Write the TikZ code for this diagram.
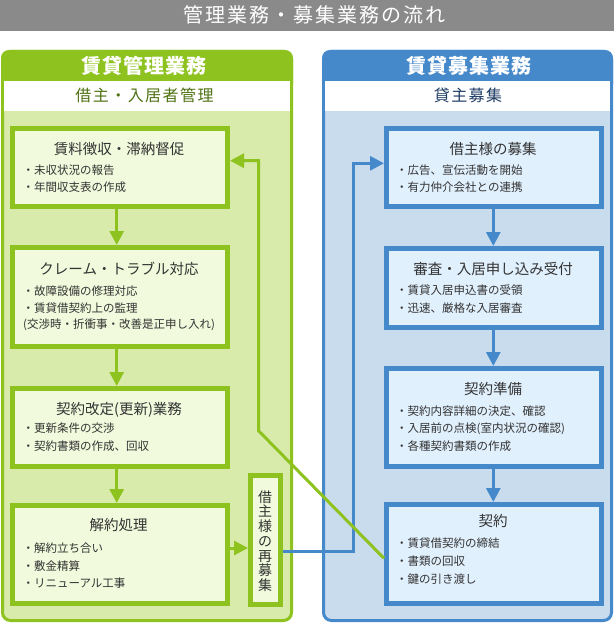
\documentclass[tikz,border=0pt]{standalone}
\usepackage{fontspec}
\setmainfont{Noto Sans CJK JP}
\usetikzlibrary{arrows.meta}
\definecolor{gbar}{HTML}{8A8A8A}
\definecolor{gmain}{HTML}{8DC21F}
\definecolor{gbody}{HTML}{D8EBAB}
\definecolor{gbox}{HTML}{F1FADC}
\definecolor{gtext}{HTML}{4F7214}
\definecolor{bmain}{HTML}{4689CB}
\definecolor{bbody}{HTML}{C8DCEE}
\definecolor{bbox}{HTML}{E1F0FD}
\definecolor{btext}{HTML}{1F3C64}
\definecolor{tx}{HTML}{333333}
\begin{document}
\begin{tikzpicture}[x=1pt,y=-1pt,
  gbx/.style={draw=gmain, fill=gbox, line width=5pt, inner sep=0pt, minimum width=215pt},
  bbx/.style={draw=bmain, fill=bbox, line width=5pt, inner sep=0pt, minimum width=215pt},
  ttl/.style={font=\fontsize{14.5}{16}\selectfont, text=tx, inner sep=0pt},
  blt/.style={font=\fontsize{11.5}{13}\selectfont, text=tx, anchor=west, inner sep=0pt},
  hdr/.style={font=\fontsize{20}{22}\selectfont\bfseries\addfontfeature{LetterSpace=5}, text=white, inner sep=0pt},
  sub/.style={font=\fontsize{16}{18}\selectfont\addfontfeature{LetterSpace=9}, inner sep=0pt},
  garr/.style={draw=gmain, line width=3pt, -{Triangle[width=14pt,length=14pt]}},
  barr/.style={draw=bmain, line width=3pt, -{Triangle[width=14pt,length=14pt]}},
  gln/.style={draw=gmain, line width=3pt},
  bln/.style={draw=bmain, line width=3pt}]
\useasboundingbox (0,0) rectangle (614,623);

% title bar
\fill[gbar] (0,0) rectangle (614,31);
\node[font=\fontsize{20}{22}\selectfont\addfontfeature{LetterSpace=10}, text=white, inner sep=0pt] (title) at (314,14.5) {管理業務・募集業務の流れ};

% left panel
\draw[gmain, line width=3pt, fill=gbody, rounded corners=8pt] (2.5,51.5) rectangle (291.5,620.5);
\fill[gmain, rounded corners=8pt] (1,50) rectangle (293,92);
\fill[white] (4,81) rectangle (290,111);
\node[hdr] (lhdr) at (144,65.7) {賃貸管理業務};
\node[sub, text=gtext] (lsub) at (144.5,95.7) {借主・入居者管理};

% right panel
\draw[bmain, line width=3pt, fill=bbody, rounded corners=8pt] (323.5,51.5) rectangle (611.5,620.5);
\fill[bmain, rounded corners=8pt] (322,50) rectangle (613,92);
\fill[white] (325,81) rectangle (610,111);
\node[hdr] (rhdr) at (469,65.7) {賃貸募集業務};
\node[sub, text=btext] (rsub) at (468,95.7) {貸主募集};

% left boxes
\node[gbx, minimum height=78pt] (L1) at (120,167.5) {};
\node[gbx, minimum height=99pt] (L2) at (120,297) {};
\node[gbx, minimum height=78pt] (L3) at (120,427.5) {};
\node[gbx, minimum height=98pt] (L4) at (120,554.5) {};
\node[gbx, minimum width=30pt, minimum height=129pt] (V) at (265.5,540) {};

\node[ttl] (L1t) at (119,149.3) {賃料徴収・滞納督促};
\node[blt] (L1a) at (22.3,170) {・未収状況の報告};
\node[blt] (L1b) at (22.3,187.3) {・年間収支表の作成};

\node[ttl] (L2t) at (119,269.3) {クレーム・トラブル対応};
\node[blt] (L2a) at (22.3,291) {・故障設備の修理対応};
\node[blt] (L2b) at (22.3,308.3) {・賃貸借契約上の監理};
\node[blt] (L2c) at (23,325) {(交渉時・折衝事・改善是正申し入れ)};

\node[ttl] (L3t) at (119,410) {契約改定(更新)業務};
\node[blt] (L3a) at (22.3,428.3) {・更新条件の交渉};
\node[blt] (L3b) at (22.3,446) {・契約書類の作成、回収};

\node[ttl] (L4t) at (118.5,525) {解約処理};
\node[blt] (L4a) at (22.3,548.3) {・解約立ち合い};
\node[blt] (L4b) at (22.3,566) {・敷金精算};
\node[blt] (L4c) at (22.3,583.3) {・リニューアル工事};

\node[font=\fontsize{14}{14.7}\selectfont, text=tx, align=center, inner sep=0pt] (Vt) at (265,541) {借\\主\\様\\の\\再\\募\\集};

% right boxes
\node[bbx, minimum height=78pt] (R1) at (494,167.5) {};
\node[bbx, minimum height=79pt] (R2) at (494,288) {};
\node[bbx, minimum height=98pt] (R3) at (494,417.5) {};
\node[bbx, minimum height=99pt] (R4) at (494,554) {};

\node[ttl] (R1t) at (493,149.3) {借主様の募集};
\node[blt] (R1a) at (396,170) {・広告、宣伝活動を開始};
\node[blt] (R1b) at (396,187.3) {・有力仲介会社との連携};

\node[ttl] (R2t) at (493,269.3) {審査・入居申し込み受付};
\node[blt] (R2a) at (396,290) {・賃貸入居申込書の受領};
\node[blt] (R2b) at (396,308.3) {・迅速、厳格な入居審査};

\node[ttl] (R3t) at (493,389.3) {契約準備};
\node[blt] (R3a) at (396,411) {・契約内容詳細の決定、確認};
\node[blt] (R3b) at (396,428.3) {・入居前の点検(室内状況の確認)};
\node[blt] (R3c) at (396,446) {・各種契約書類の作成};

\node[ttl] (R4t) at (493,521) {契約};
\node[blt] (R4a) at (396,543.3) {・賃貸借契約の締結};
\node[blt] (R4b) at (396,560.7) {・書類の回収};
\node[blt] (R4c) at (396,579) {・鍵の引き渡し};

% vertical flow arrows
\draw[garr] ([xshift=-3.3pt]L1.south) -- ([xshift=-3.3pt]L2.north);
\draw[garr] ([xshift=-3.3pt]L2.south) -- ([xshift=-3.3pt]L3.north);
\draw[garr] ([xshift=-3.3pt]L3.south) -- ([xshift=-3.3pt]L4.north);
\draw[barr] ([xshift=-0.7pt]R1.south) -- ([xshift=-0.7pt]R2.north);
\draw[barr] ([xshift=-0.7pt]R2.south) -- ([xshift=-0.7pt]R3.north);
\draw[barr] ([xshift=-0.7pt]R3.south) -- ([xshift=-0.7pt]R4.north);

% L4 -> re-recruit
\coordinate (gy) at (0,548);
\draw[garr] (L4.east |- gy) -- (V.west |- gy);

% blue: re-recruit -> R1
\coordinate (b1) at (353,551);
\coordinate (b2) at (353,163.3);
\draw[barr] (V.east |- b1) -- (b1) -- (b2) -- (R1.west |- b2);

% green: R4 -> L1
\coordinate (gs) at (0,558.3);
\coordinate (g1) at (258.5,430.7);
\coordinate (g2) at (258.5,160.7);
\draw[garr] (R4.west |- gs) -- (g1) -- (g2) -- (L1.east |- g2);
\end{tikzpicture}
\end{document}
